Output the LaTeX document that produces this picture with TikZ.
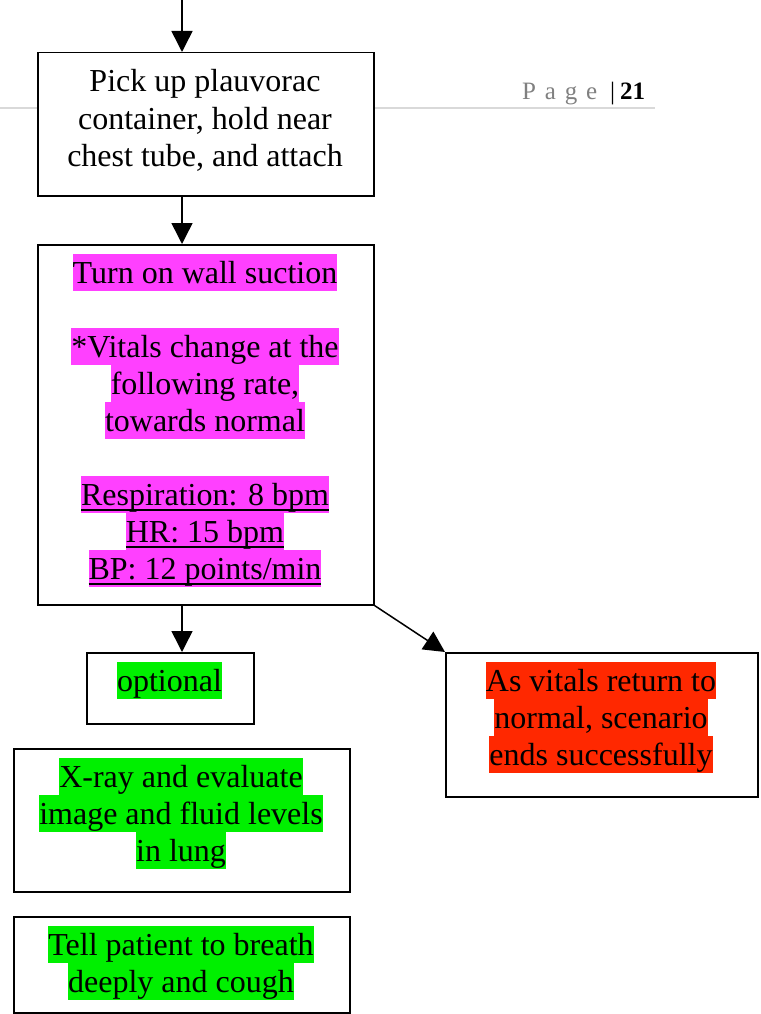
\documentclass[tikz,border=0pt]{standalone}
\usepackage{fontspec}
\setmainfont{Liberation Serif}
\usetikzlibrary{arrows.meta}
\definecolor{hlpink}{RGB}{255,64,255}
\definecolor{hlgreen}{RGB}{0,240,0}
\definecolor{hlred}{RGB}{255,40,0}
\definecolor{pagegrey}{RGB}{128,128,128}
\definecolor{rulegrey}{RGB}{217,217,217}
\newcommand\ulbar[1]{\setbox0\hbox{#1}\rlap{\rule[-5.5pt]{\wd0}{2pt}}\box0}
\begin{document}
\begin{tikzpicture}[x=1pt,y=-1pt,
  box/.style={draw=black, line width=1.5pt, fill=white, inner sep=0pt, anchor=north west},
  txt/.style={font=\fontsize{32}{37}\selectfont, inner sep=0pt, text height=29pt, text depth=8pt, anchor=base},
  pinkhl/.style={txt, fill=hlpink},
  greenhl/.style={txt, fill=hlgreen},
  redhl/.style={txt, fill=hlred},
  arr/.style={line width=1.5pt, -{Triangle[width=21pt,length=21pt]}}
]
\useasboundingbox (0,0) rectangle (760,1014);
% header rule and page number
\draw[rulegrey, line width=1.5pt] (0,108) -- (655,108);
\node[anchor=base west, font=\fontsize{25}{30}\selectfont, inner sep=0pt] (pg) at (522,100)
  {{\color{pagegrey}P\hspace{8.8pt}a\hspace{8.8pt}g\hspace{8.8pt}e}\hspace{13pt}|\hspace{5pt}\textbf{21}};

% boxes
\node[box, minimum width=336pt, minimum height=143pt] (b1) at (37,52) {};
\node[box, minimum width=336pt, minimum height=360pt] (b2) at (37,244) {};
\node[box, minimum width=167pt, minimum height=71pt] (opt) at (86,652) {};
\node[box, minimum width=312pt, minimum height=144pt] (red) at (445,652) {};
\node[box, minimum width=336pt, minimum height=143pt] (xray) at (13,748) {};
\node[box, minimum width=336pt, minimum height=96pt] (tell) at (13,916) {};

% box 1 text
\node[txt] (b1a) at (205,92) {Pick up plauvorac};
\node[txt] (b1b) at (205,129) {container, hold near};
\node[txt] (b1c) at (205,166) {chest tube, and attach};

% box 2 text
\node[pinkhl] (b2a) at (205,283) {Turn on wall suction};
\node[pinkhl] (b2b) at (205,357) {*Vitals change at the};
\node[pinkhl] (b2c) at (205,394) {following rate,};
\node[pinkhl] (b2d) at (205,431) {towards normal};
\node[pinkhl] (b2e) at (205,505) {\ulbar{Respiration: 8 bpm}};
\node[pinkhl] (b2f) at (205,542) {\ulbar{HR: 15 bpm}};
\node[pinkhl] (b2g) at (205,579) {\ulbar{BP: 12 points/min}};

% optional
\node[greenhl] (opta) at (169.5,691) {optional};

% red box
\node[redhl] (reda) at (601,691) {As vitals return to};
\node[redhl] (redb) at (601,728) {normal, scenario};
\node[redhl] (redc) at (601,765) {ends successfully};

% x-ray
\node[greenhl] (xa) at (181,787) {X-ray and evaluate};
\node[greenhl] (xb) at (181,824) {image and fluid levels};
\node[greenhl] (xc) at (181,861) {in lung};

% tell
\node[greenhl] (ta) at (181,955) {Tell patient to breath};
\node[greenhl] (tb) at (181,992) {deeply and cough};

% connectors
\coordinate (ax) at (182,0);
\draw[arr] (ax) -- (b1.north -| ax);
\draw[arr] (b1.south -| ax) -- (b2.north -| ax);
\draw[arr] (b2.south -| ax) -- (opt.north -| ax);
\draw[arr] (b2.south east) -- (red.north west);
\end{tikzpicture}
\end{document}
